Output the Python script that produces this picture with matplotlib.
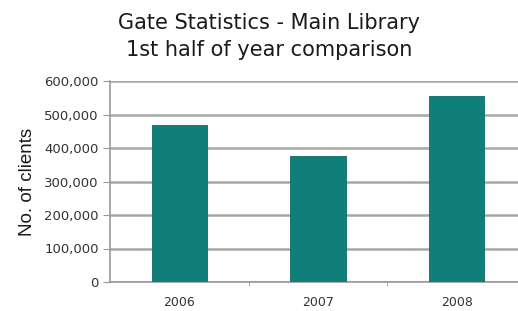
# gate statistics bar chart, main library, first half of year

import matplotlib.pyplot as plt
from matplotlib.ticker import FuncFormatter

years = ["2006", "2007", "2008"]
clients = [470000, 375000, 555000]
y_ticks = [0, 100000, 200000, 300000, 400000, 500000, 600000]

fig = plt.figure(figsize=(5.18, 3.11), dpi=100)
ax = fig.add_axes([110 / 518, 29 / 311, 416 / 518, 201 / 311])

pos = range(len(years))
ax.bar(pos, clients, width=0.4, color="#117f79", edgecolor="#0d6b66", linewidth=0.6, zorder=3)

ax.set_xlim(-0.5, 2.5)
ax.set_ylim(0, 600000)
ax.set_yticks(y_ticks)
ax.yaxis.set_major_formatter(FuncFormatter(lambda v, p: f"{int(v):,}"))
ax.set_xticks(pos)
ax.set_xticklabels(years)
ax.set_xticks([0.5, 1.5], minor=True)
ax.tick_params(axis="x", which="major", length=0, pad=10, labelsize=9, labelcolor="#333333")
ax.tick_params(axis="x", which="minor", length=3, color="#999999")
ax.tick_params(axis="y", length=5, color="#999999", labelsize=9.5, labelcolor="#333333", pad=3)

ax.grid(axis="y", color="#a8a8a8", linewidth=1.8, zorder=0)
for s in ["top", "right"]:
    ax.spines[s].set_visible(False)
ax.spines["left"].set_color("#999999")
ax.spines["bottom"].set_color("#999999")
ax.spines["left"].set_linewidth(1.2)
ax.spines["bottom"].set_linewidth(1.2)

ax.set_ylabel("No. of clients", fontsize=13.5, family="Liberation Sans", color="#1a1a1a", labelpad=6)

fig.text(269 / 518, 1 - 23 / 311, "Gate Statistics - Main Library", ha="center", va="center",
         fontsize=15, family="DejaVu Sans", color="#1a1a1a")
fig.text(269 / 518, 1 - 50 / 311, "1st half of year comparison", ha="center", va="center",
         fontsize=15, family="DejaVu Sans", color="#1a1a1a")

plt.savefig("out.png", dpi=100)
